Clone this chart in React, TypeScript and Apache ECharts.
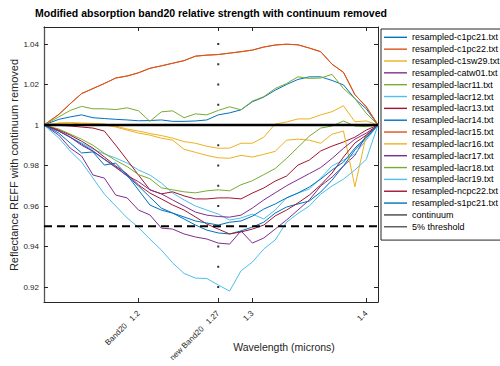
import React, { useEffect, useRef } from "react";
import * as echarts from "echarts";

const FONT = '"Liberation Sans", Arial, Helvetica, sans-serif';

const wavelengths = [
  1.117, 1.13, 1.14, 1.15, 1.16, 1.17, 1.18, 1.19, 1.2, 1.21, 1.22, 1.23, 1.24, 1.25, 1.26,
  1.27, 1.28, 1.29, 1.3, 1.31, 1.32, 1.33, 1.34, 1.35, 1.36, 1.37, 1.38, 1.39, 1.4, 1.4103,
];

const c1pc21 = [1.0, 1.0028, 1.004, 1.005, 1.0036, 1.0032, 1.0028, 1.0025, 1.0021, 1.0022, 1.0025, 1.0018, 1.0018, 1.002, 1.0025, 1.005, 1.006, 1.0075, 1.0115, 1.0138, 1.0172, 1.02, 1.0225, 1.0238, 1.0238, 1.022, 1.0198, 1.013, 1.008, 1.0];
const c1pc22 = [1.0, 1.0052, 1.0105, 1.0155, 1.018, 1.0205, 1.0232, 1.0242, 1.0258, 1.028, 1.0292, 1.0305, 1.0318, 1.034, 1.0345, 1.0348, 1.0355, 1.0362, 1.037, 1.0385, 1.0395, 1.0399, 1.0396, 1.038, 1.0362, 1.03, 1.026, 1.015, 1.009, 1.0];
const c1sw29 = [1.0, 1.001, 1.0012, 1.001, 1.0008, 1.0005, 0.9995, 0.998, 0.997, 0.9958, 0.9948, 0.9935, 0.9918, 0.991, 0.9895, 0.9885, 0.9886, 0.991, 0.991, 0.994, 1.0005, 1.0015, 1.003, 1.003, 1.005, 1.0066, 1.0095, 1.0016, 1.002, 1.0];
const catw01 = [1.0, 0.995, 0.9886, 0.9847, 0.9753, 0.9738, 0.9654, 0.964, 0.958, 0.9556, 0.9491, 0.9486, 0.9462, 0.9447, 0.9437, 0.9417, 0.9412, 0.9477, 0.9417, 0.9442, 0.9486, 0.9531, 0.958, 0.963, 0.9699, 0.9743, 0.9798, 0.985, 0.995, 1.0];
const lacr11 = [1.0, 1.004, 1.0072, 1.0092, 1.008, 1.008, 1.0076, 1.0085, 1.007, 1.0018, 1.0065, 1.007, 1.0036, 1.0055, 1.005, 1.0072, 1.009, 1.0075, 1.0118, 1.014, 1.018, 1.0205, 1.0238, 1.023, 1.0232, 1.025, 1.018, 1.013, 1.0058, 1.0];
const lacr12 = [1.0, 0.997, 0.994, 0.9911, 0.9881, 0.9857, 0.9837, 0.9812, 0.9778, 0.9753, 0.9714, 0.9664, 0.963, 0.96, 0.958, 0.956, 0.9531, 0.9541, 0.956, 0.9536, 0.958, 0.964, 0.9664, 0.9684, 0.9738, 0.9798, 0.9827, 0.9857, 0.9926, 1.0];
const lacr13 = [1.0, 0.9998, 0.9995, 0.999, 0.9985, 0.997, 0.99, 0.9827, 0.9753, 0.968, 0.966, 0.967, 0.965, 0.9635, 0.9635, 0.964, 0.964, 0.9635, 0.9664, 0.9689, 0.9723, 0.9748, 0.9802, 0.9827, 0.9872, 0.9896, 0.9916, 0.994, 0.9975, 1.0];
const lacr14 = [1.0, 0.997, 0.994, 0.9906, 0.9872, 0.9832, 0.9793, 0.9748, 0.9699, 0.9644, 0.959, 0.9565, 0.9536, 0.9506, 0.9481, 0.9467, 0.9462, 0.9477, 0.9496, 0.952, 0.9565, 0.9595, 0.961, 0.9625, 0.9669, 0.9728, 0.9798, 0.9877, 0.9936, 1.0];
const lacr15 = [1.0, 1.0052, 1.0105, 1.0155, 1.018, 1.0205, 1.0232, 1.0242, 1.0258, 1.028, 1.0292, 1.0305, 1.0318, 1.034, 1.0345, 1.0348, 1.0355, 1.0362, 1.037, 1.0385, 1.0395, 1.0399, 1.0396, 1.038, 1.0362, 1.03, 1.026, 1.015, 1.009, 1.0];
const lacr16 = [1.0, 1.0008, 1.001, 1.0005, 1.0008, 1.0, 0.999, 0.9975, 0.996, 0.995, 0.9935, 0.9925, 0.988, 0.9865, 0.985, 0.9838, 0.9836, 0.985, 0.9842, 0.9855, 0.987, 0.9925, 0.993, 0.9925, 0.991, 0.9955, 0.997, 0.9695, 0.995, 1.0];
const lacr17 = [1.0, 0.997, 0.994, 0.99, 0.987, 0.983, 0.979, 0.975, 0.972, 0.968, 0.966, 0.963, 0.96, 0.957, 0.9555, 0.9548, 0.9545, 0.9555, 0.959, 0.963, 0.9665, 0.97, 0.973, 0.976, 0.979, 0.9835, 0.9885, 0.993, 0.996, 1.0];
const lacr18 = [1.0, 0.998, 0.9955, 0.993, 0.99, 0.986, 0.9825, 0.9795, 0.9755, 0.9735, 0.969, 0.968, 0.967, 0.9665, 0.9675, 0.968, 0.9675, 0.9705, 0.9725, 0.9755, 0.9785, 0.9835, 0.989, 0.9945, 0.9985, 0.9995, 1.002, 0.9995, 0.9992, 1.0];
const lacr19 = [1.0, 0.9936, 0.9872, 0.9817, 0.9738, 0.9659, 0.96, 0.9541, 0.9494, 0.9437, 0.9383, 0.9319, 0.9267, 0.9244, 0.9242, 0.921, 0.918, 0.928, 0.9323, 0.9388, 0.9432, 0.952, 0.9563, 0.96, 0.9659, 0.9699, 0.9733, 0.9778, 0.983, 1.0];
const ncpc22 = [1.0, 0.9975, 0.995, 0.992, 0.9886, 0.9842, 0.9798, 0.9758, 0.9704, 0.9664, 0.9635, 0.9605, 0.958, 0.9546, 0.9511, 0.9486, 0.9462, 0.9472, 0.9486, 0.9506, 0.9551, 0.958, 0.9615, 0.9654, 0.9704, 0.9763, 0.9842, 0.9911, 0.995, 1.0];
const s1pc21 = [1.0, 0.996, 0.9911, 0.9862, 0.9867, 0.9802, 0.9812, 0.9753, 0.9679, 0.9605, 0.958, 0.9565, 0.9546, 0.9526, 0.9516, 0.9506, 0.952, 0.9526, 0.955, 0.9585, 0.961, 0.964, 0.9664, 0.9694, 0.9733, 0.9778, 0.9817, 0.9886, 0.994, 1.0];

const spectra = [
  { name: "resampled-c1pc21.txt", values: c1pc21, color: "#0072BD" },
  { name: "resampled-c1pc22.txt", values: c1pc22, color: "#D95319" },
  { name: "resampled-c1sw29.txt", values: c1sw29, color: "#EDB120" },
  { name: "resampled-catw01.txt", values: catw01, color: "#7E2F8E" },
  { name: "resampled-lacr11.txt", values: lacr11, color: "#77AC30" },
  { name: "resampled-lacr12.txt", values: lacr12, color: "#4DBEEE" },
  { name: "resampled-lacr13.txt", values: lacr13, color: "#A2142F" },
  { name: "resampled-lacr14.txt", values: lacr14, color: "#0072BD" },
  { name: "resampled-lacr15.txt", values: lacr15, color: "#D95319" },
  { name: "resampled-lacr16.txt", values: lacr16, color: "#EDB120" },
  { name: "resampled-lacr17.txt", values: lacr17, color: "#7E2F8E" },
  { name: "resampled-lacr18.txt", values: lacr18, color: "#77AC30" },
  { name: "resampled-lacr19.txt", values: lacr19, color: "#4DBEEE" },
  { name: "resampled-ncpc22.txt", values: ncpc22, color: "#A2142F" },
  { name: "resampled-s1pc21.txt", values: s1pc21, color: "#0072BD" },
];

const continuumLevel = 1;
const thresholdLevel = 0.95;

const xTicks = [1.2, 1.27, 1.3, 1.4];
const xTickLabels = ["Band20   1.2", "new Band20   1.27", "1.3", "1.4"];
const yTicks = [0.92, 0.94, 0.96, 0.98, 1, 1.02, 1.04];
const markerWavelength = 1.27;
const markerLevels = [0.92, 0.93, 0.94, 0.95, 0.96, 0.97, 0.98, 0.99, 1.0, 1.01, 1.02, 1.03, 1.04];

const X_MIN = 1.117;
const X_MAX = 1.4103;
const Y_MIN = 0.9126;
const Y_MAX = 1.0484;

const AXIS = "#262626";

export default function App() {
  const ref = useRef<HTMLDivElement>(null);
  useEffect(() => {
    if (!ref.current) return;
    const chart = echarts.init(ref.current, null, { renderer: "svg" });
    const xFmt = (v: number) => {
      const i = xTicks.findIndex((t) => Math.abs(t - v) < 1e-6);
      return i < 0 ? "" : xTickLabels[i];
    };
    const yFmt = (v: number) => String(Number(v.toFixed(2)));
    const lineSeries: any[] = spectra.map((s) => ({
      name: s.name,
      type: "line",
      symbol: "none",
      showSymbol: false,
      data: wavelengths.map((w, i) => [w, s.values[i]]),
      lineStyle: { color: s.color, width: 1 },
      itemStyle: { color: s.color },
      silent: true,
    }));
    lineSeries.push({
      name: "markers",
      type: "scatter",
      symbol: "rect",
      symbolSize: 2,
      data: markerLevels.map((l) => [markerWavelength, l]),
      itemStyle: { color: "#000" },
      silent: true,
      z: 1,
    });
    lineSeries.push({
      name: "continuum",
      type: "line",
      symbol: "none",
      data: [
        [X_MIN, continuumLevel],
        [X_MAX, continuumLevel],
      ],
      lineStyle: { color: "#000", width: 2.5 },
      itemStyle: { color: "#000" },
      z: 3,
    });
    lineSeries.push({
      name: "5% threshold",
      type: "line",
      symbol: "none",
      data: [
        [X_MIN, thresholdLevel],
        [X_MAX, thresholdLevel],
      ],
      lineStyle: { color: "#000", width: 2, type: [8, 5] },
      itemStyle: { color: "#000" },
      z: 3,
    });

    const legendData: any[] = spectra.map((s) => ({ name: s.name, icon: "rect", itemStyle: { color: s.color } }));
    legendData.push({ name: "continuum", icon: "rect", itemStyle: { color: "#444" } });
    legendData.push({ name: "5% threshold", icon: "rect", itemStyle: { color: "#555" } });

    chart.setOption({
      animation: false,
      backgroundColor: "#fff",
      grid: { left: 44, right: 122, top: 27, bottom: 64 },
      xAxis: [
        {
          type: "value",
          min: X_MIN,
          max: X_MAX,
          position: "bottom",
          axisLine: { show: true, lineStyle: { color: AXIS, width: 1 } },
          axisTick: { show: true, inside: true, length: 4, customValues: xTicks, lineStyle: { color: AXIS } },
          axisLabel: {
            show: true,
            customValues: xTicks,
            rotate: 45,
            margin: 10,
            formatter: xFmt,
            color: AXIS,
            fontFamily: FONT,
            fontSize: 8,
          },
          splitLine: { show: false },
        },
        {
          type: "value",
          min: X_MIN,
          max: X_MAX,
          position: "top",
          axisLine: { show: true, lineStyle: { color: AXIS, width: 1 } },
          axisTick: { show: true, inside: true, length: 4, customValues: xTicks, lineStyle: { color: AXIS } },
          axisLabel: { show: false },
          splitLine: { show: false },
        },
      ],
      yAxis: [
        {
          type: "value",
          min: Y_MIN,
          max: Y_MAX,
          position: "left",
          axisLine: { show: true, lineStyle: { color: "#555", width: 1.3 } },
          axisTick: { show: true, inside: true, length: 4, customValues: yTicks, lineStyle: { color: AXIS } },
          axisLabel: { show: true, customValues: yTicks, formatter: yFmt, margin: 5, color: AXIS, fontFamily: FONT, fontSize: 8 },
          splitLine: { show: false },
        },
        {
          type: "value",
          min: Y_MIN,
          max: Y_MAX,
          position: "right",
          axisLine: { show: true, lineStyle: { color: AXIS, width: 1 } },
          axisTick: { show: true, inside: true, length: 4, customValues: yTicks, lineStyle: { color: AXIS } },
          axisLabel: { show: false },
          splitLine: { show: false },
        },
      ],
      legend: {
        orient: "vertical",
        left: 381,
        top: 29,
        padding: [2.4, 1, 7.4, 3],
        itemWidth: 23,
        itemHeight: 1.4,
        itemGap: 0,
        borderColor: AXIS,
        borderWidth: 1,
        backgroundColor: "#fff",
        selectedMode: false,
        textStyle: { fontSize: 9, lineHeight: 11.84, color: "#000", fontFamily: FONT },
        data: legendData,
      },
      graphic: [
        {
          type: "text",
          x: 211,
          y: 13,
          style: {
            text: "Modified absorption band20 relative strength with continuum removed",
            fontFamily: FONT,
            fontWeight: "bold",
            fontSize: 10.5,
            fill: "#000",
            align: "center",
            verticalAlign: "middle",
          },
        },
        {
          type: "text",
          x: 14,
          y: 165,
          rotation: Math.PI / 2,
          style: {
            text: "Reflectance REFF with continuum removed",
            fontFamily: FONT,
            fontSize: 11,
            fill: AXIS,
            align: "center",
            verticalAlign: "middle",
          },
        },
        {
          type: "text",
          x: 284,
          y: 347,
          style: {
            text: "Wavelength (microns)",
            fontFamily: FONT,
            fontSize: 10.5,
            fill: AXIS,
            align: "center",
            verticalAlign: "middle",
          },
        },
      ],
      series: lineSeries,
    });
    return () => chart.dispose();
  }, []);
  return <div ref={ref} style={{ position: "fixed", left: 0, top: 0, width: 500, height: 366 }} />;
}
